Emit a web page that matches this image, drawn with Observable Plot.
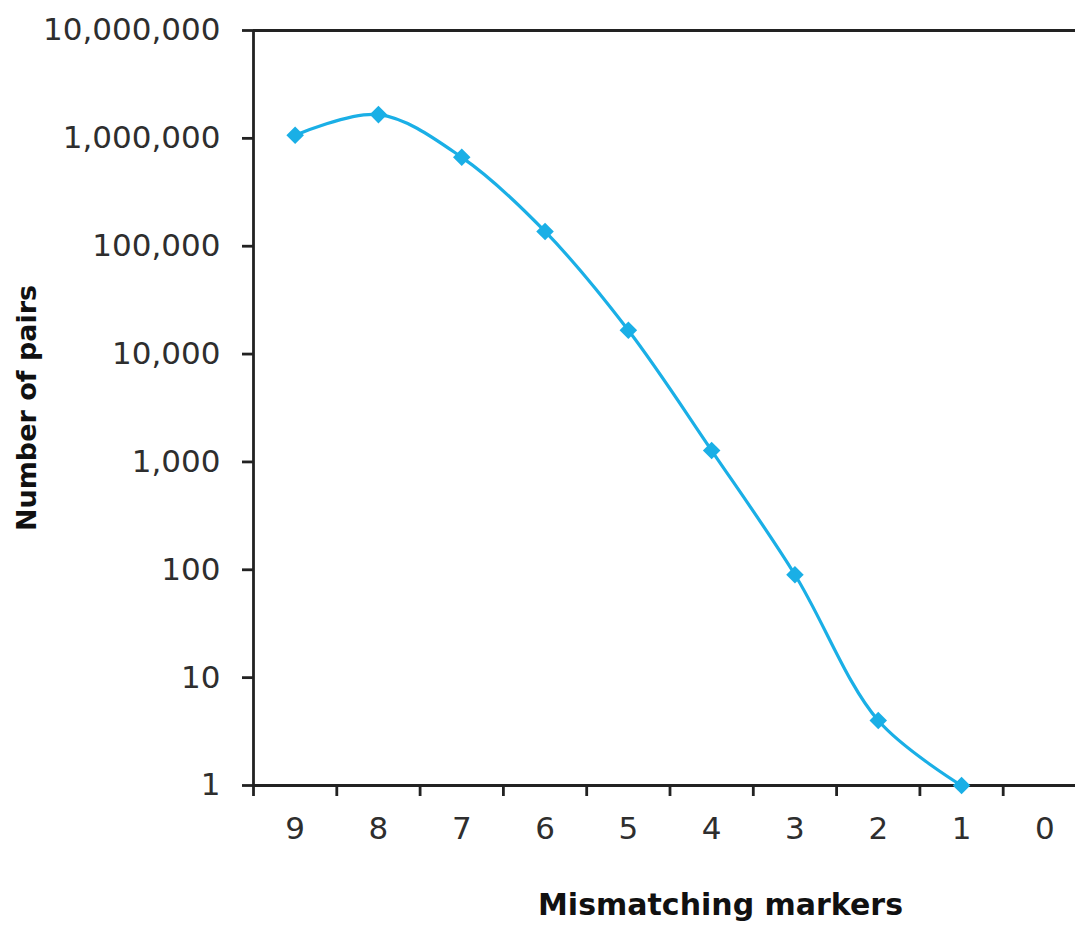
<!DOCTYPE html>
<html><head><meta charset="utf-8">
<script src="https://cdn.jsdelivr.net/npm/d3@7"></script>
<script src="https://cdn.jsdelivr.net/npm/@observablehq/plot@0.6"></script>
<style>html,body{margin:0;padding:0;background:#fff;overflow:hidden}</style>
</head><body><div id="chart"></div>
<script>
// Data
const mismatches = [9, 8, 7, 6, 5, 4, 3, 2, 1];
const pairs = [1070000, 1660000, 667000, 137000, 16600, 1275, 90, 4, 1];
const categories = [9, 8, 7, 6, 5, 4, 3, 2, 1, 0];
const yTicks = [1, 10, 100, 1000, 10000, 100000, 1000000, 10000000];
const xTitle = "Mismatching markers";
const yTitle = "Number of pairs";

const data = mismatches.map((m, i) => ({m, n: pairs[i]}));
const boundaries = categories.map(c => c + 0.5);

const font = "DejaVu Sans";
const blue = "#1AAFE6";
const ink = "#222";

const chart = Plot.plot({
  width: 1075,
  height: 928,
  marginTop: 30,
  marginBottom: 143,
  marginLeft: 253,
  marginRight: 0,
  style: {fontFamily: font, background: "#fff", color: ink},
  x: {type: "linear", domain: [9.5, -0.5], range: [253, 1086]},
  y: {type: "log", domain: [1, 1e7], range: [785, 30]},
  marks: [
    // frame lines
    Plot.ruleY([1e7], {stroke: ink, strokeWidth: 2.8}),
    Plot.ruleY([1], {stroke: ink, strokeWidth: 2.8}),
    Plot.ruleX([9.5], {stroke: ink, strokeWidth: 2.8}),
    // y axis
    Plot.axisY({ticks: yTicks, tickFormat: d3.format(","), tickSize: 11, tickPadding: 22,
      fontSize: 31, fill: "#2e2e2e", strokeWidth: 2.8, stroke: ink, label: null}),
    // x tick marks between categories
    Plot.axisX({ticks: boundaries, tickFormat: () => "", tickSize: 11, strokeWidth: 2.8, stroke: ink, label: null}),
    // x category labels
    Plot.axisX({ticks: categories, tickSize: 0, tickPadding: 31, fontSize: 31, fill: "#2e2e2e", label: null}),
    // data
    Plot.line(data, {x: "m", y: "n", curve: "catmull-rom", stroke: blue, strokeWidth: 3.2}),
    Plot.dot(data, {x: "m", y: "n", symbol: "square", r: 7, rotate: 45, fill: blue, stroke: "none"}),
    // titles
    Plot.text([xTitle], {text: d => d, frameAnchor: "bottom", dx: 56, dy: 120, lineAnchor: "middle",
      fontSize: 30, fontWeight: "bold", fill: "#111"}),
    Plot.text([yTitle], {text: d => d, frameAnchor: "left", textAnchor: "middle", rotate: -90, dx: -226,
      lineAnchor: "middle", fontSize: 27, fontWeight: "bold", fill: "#111"})
  ]
});
document.getElementById("chart").append(chart);
</script>
</body></html>
